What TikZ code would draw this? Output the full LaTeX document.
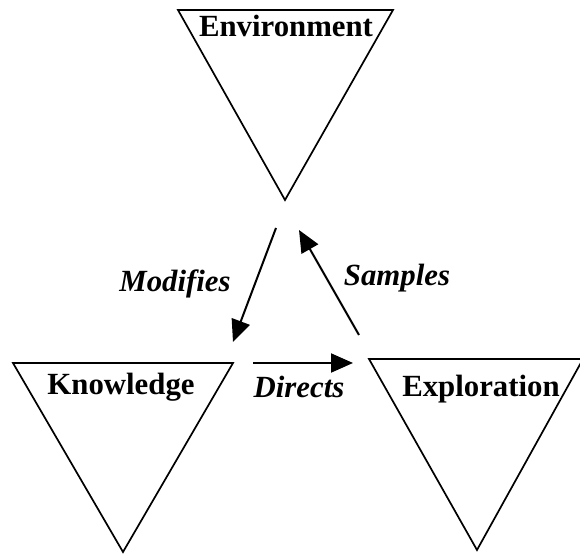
\documentclass[tikz,border=0pt]{standalone}
\usepackage{fontspec}
\setmainfont{Liberation Serif}
\usetikzlibrary{arrows.meta}
\begin{document}
\begin{tikzpicture}[x=0.5pt,y=-0.5pt,
  tri/.style={draw=black,line width=0.85pt,line join=miter},
  conn/.style={draw=black,line width=1pt,-{Triangle[length=11pt,width=9.5pt]}},
  title/.style={font=\fontsize{15.4}{18}\selectfont\bfseries,anchor=base,inner sep=0pt},
  lbl/.style={font=\fontsize{15.4}{18}\selectfont\bfseries\itshape,anchor=base,inner sep=0pt}]
\useasboundingbox (0,0) rectangle (580,555);
% triangles
\coordinate (envL) at (178,10);
\coordinate (envR) at (393,10);
\coordinate (envA) at (285,200);
\coordinate (knoL) at (13,363);
\coordinate (knoR) at (233,363);
\coordinate (knoA) at (123,552);
\coordinate (expL) at (369,359);
\coordinate (expR) at (583,359);
\coordinate (expA) at (477,550);
\draw[tri] (envL) -- (envR) -- (envA) -- cycle;
\draw[tri] (knoL) -- (knoR) -- (knoA) -- cycle;
\draw[tri] (expL) -- (expR) -- (expA) -- cycle;
\node[title] (env) at (286,37) {Environment};
\node[title] (kno) at (121,395) {Knowledge};
\node[title] (exp) at (481,397) {Exploration};
% connectors
\coordinate (m1) at (276,228);
\coordinate (m2) at (233,342);
\coordinate (s1) at (359,335);
\coordinate (s2) at (299,230);
\coordinate (d1) at (253,363);
\coordinate (d2) at (353,363);
\draw[conn] (m1) -- (m2);
\draw[conn] (s1) -- (s2);
\draw[conn] (d1) -- (d2);
\node[lbl] (mod) at (175,292) {Modifies};
\node[lbl] (sam) at (397,286) {Samples};
\node[lbl] (dir) at (299,398) {Directs};
\end{tikzpicture}
\end{document}
